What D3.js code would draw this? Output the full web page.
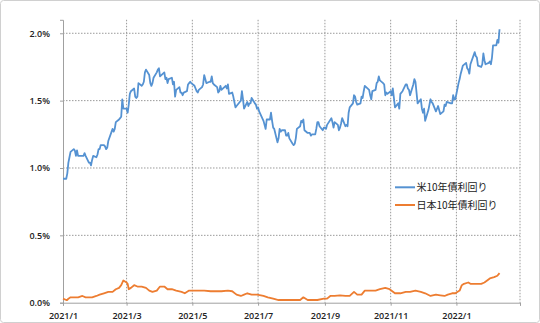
<!DOCTYPE html>
<html><head><meta charset="utf-8">
<script src="https://cdn.jsdelivr.net/npm/d3@7"></script>
<style>
body{margin:0;background:#fff;}
svg{display:block;}
</style></head>
<body>
<svg id="chart" width="540" height="323"></svg>
<script>
// ---- data ----
const seriesNames = ["米10年債利回り", "日本10年債利回り"];
const yTicks = [0, 0.5, 1.0, 1.5, 2.0];
const xTickDates = ["2021-01-01","2021-03-01","2021-05-01","2021-07-01","2021-09-01","2021-11-01","2022-01-01","2022-03-01"];

const usDates = [
"2021-01-01","2021-01-04","2021-01-05","2021-01-06","2021-01-07","2021-01-08","2021-01-11","2021-01-12","2021-01-13","2021-01-14","2021-01-15","2021-01-19","2021-01-20","2021-01-21","2021-01-22","2021-01-25","2021-01-26","2021-01-27","2021-01-28","2021-01-29",
"2021-02-01","2021-02-02","2021-02-03","2021-02-04","2021-02-05","2021-02-08","2021-02-09","2021-02-10","2021-02-11","2021-02-12","2021-02-16","2021-02-17","2021-02-18","2021-02-19","2021-02-22","2021-02-23","2021-02-24","2021-02-25","2021-02-26",
"2021-03-01","2021-03-02","2021-03-03","2021-03-04","2021-03-05","2021-03-08","2021-03-09","2021-03-10","2021-03-11","2021-03-12","2021-03-15","2021-03-16","2021-03-17","2021-03-18","2021-03-19","2021-03-22","2021-03-23","2021-03-24","2021-03-25","2021-03-26","2021-03-29","2021-03-30","2021-03-31",
"2021-04-01","2021-04-05","2021-04-06","2021-04-07","2021-04-08","2021-04-09","2021-04-12","2021-04-13","2021-04-14","2021-04-15","2021-04-16","2021-04-19","2021-04-20","2021-04-21","2021-04-22","2021-04-23","2021-04-26","2021-04-27","2021-04-28","2021-04-29","2021-04-30",
"2021-05-03","2021-05-04","2021-05-05","2021-05-06","2021-05-07","2021-05-10","2021-05-11","2021-05-12","2021-05-13","2021-05-14","2021-05-17","2021-05-18","2021-05-19","2021-05-20","2021-05-21","2021-05-24","2021-05-25","2021-05-26","2021-05-27","2021-05-28",
"2021-06-01","2021-06-02","2021-06-03","2021-06-04","2021-06-07","2021-06-08","2021-06-09","2021-06-10","2021-06-11","2021-06-14","2021-06-15","2021-06-16","2021-06-17","2021-06-18","2021-06-21","2021-06-22","2021-06-23","2021-06-24","2021-06-25","2021-06-28","2021-06-29","2021-06-30",
"2021-07-01","2021-07-02","2021-07-06","2021-07-07","2021-07-08","2021-07-09","2021-07-12","2021-07-13","2021-07-14","2021-07-15","2021-07-16","2021-07-19","2021-07-20","2021-07-21","2021-07-22","2021-07-23","2021-07-26","2021-07-27","2021-07-28","2021-07-29","2021-07-30",
"2021-08-02","2021-08-03","2021-08-04","2021-08-05","2021-08-06","2021-08-09","2021-08-10","2021-08-11","2021-08-12","2021-08-13","2021-08-16","2021-08-17","2021-08-18","2021-08-19","2021-08-20","2021-08-23","2021-08-24","2021-08-25","2021-08-26","2021-08-27","2021-08-30","2021-08-31",
"2021-09-01","2021-09-02","2021-09-03","2021-09-07","2021-09-08","2021-09-09","2021-09-10","2021-09-13","2021-09-14","2021-09-15","2021-09-16","2021-09-17","2021-09-20","2021-09-21","2021-09-22","2021-09-23","2021-09-24","2021-09-27","2021-09-28","2021-09-29","2021-09-30",
"2021-10-01","2021-10-04","2021-10-05","2021-10-06","2021-10-07","2021-10-08","2021-10-12","2021-10-13","2021-10-14","2021-10-15","2021-10-18","2021-10-19","2021-10-20","2021-10-21","2021-10-22","2021-10-25","2021-10-26","2021-10-27","2021-10-28","2021-10-29",
"2021-11-01","2021-11-02","2021-11-03","2021-11-04","2021-11-05","2021-11-08","2021-11-09","2021-11-10","2021-11-12","2021-11-15","2021-11-16","2021-11-17","2021-11-18","2021-11-19","2021-11-22","2021-11-23","2021-11-24","2021-11-26","2021-11-29","2021-11-30",
"2021-12-01","2021-12-02","2021-12-03","2021-12-06","2021-12-07","2021-12-08","2021-12-09","2021-12-10","2021-12-13","2021-12-14","2021-12-15","2021-12-16","2021-12-17","2021-12-20","2021-12-21","2021-12-22","2021-12-23","2021-12-27","2021-12-28","2021-12-29","2021-12-30","2021-12-31",
"2022-01-03","2022-01-04","2022-01-05","2022-01-06","2022-01-07","2022-01-10","2022-01-11","2022-01-12","2022-01-13","2022-01-14","2022-01-18","2022-01-19","2022-01-20","2022-01-21","2022-01-24","2022-01-25","2022-01-26","2022-01-27","2022-01-28","2022-01-31",
"2022-02-01","2022-02-02","2022-02-03","2022-02-04","2022-02-07","2022-02-08","2022-02-09","2022-02-10"];
const usYield = [
0.92,0.92,0.96,1.04,1.08,1.12,1.14,1.13,1.09,1.13,1.09,1.09,1.09,1.11,1.09,1.04,1.04,1.02,1.06,1.09,
1.08,1.10,1.14,1.14,1.17,1.17,1.16,1.14,1.15,1.20,1.29,1.27,1.29,1.34,1.36,1.37,1.38,1.51,1.44,
1.44,1.41,1.47,1.55,1.57,1.59,1.53,1.52,1.53,1.63,1.61,1.62,1.64,1.71,1.73,1.69,1.63,1.61,1.63,1.67,1.71,1.73,1.74,
1.68,1.71,1.66,1.67,1.63,1.66,1.67,1.62,1.64,1.53,1.58,1.60,1.56,1.56,1.54,1.56,1.57,1.62,1.63,1.64,1.63,
1.61,1.59,1.57,1.56,1.58,1.60,1.62,1.69,1.66,1.63,1.64,1.64,1.68,1.63,1.62,1.60,1.56,1.57,1.61,1.58,
1.61,1.59,1.62,1.55,1.56,1.53,1.49,1.45,1.46,1.49,1.50,1.57,1.51,1.44,1.49,1.46,1.48,1.48,1.52,1.48,1.47,1.44,
1.45,1.42,1.35,1.32,1.29,1.36,1.36,1.41,1.35,1.30,1.29,1.19,1.22,1.29,1.27,1.28,1.28,1.24,1.24,1.26,1.22,
1.18,1.17,1.18,1.22,1.29,1.31,1.35,1.34,1.36,1.28,1.26,1.26,1.26,1.24,1.25,1.25,1.29,1.34,1.34,1.31,1.28,1.30,
1.30,1.29,1.32,1.37,1.34,1.30,1.34,1.32,1.28,1.30,1.33,1.37,1.31,1.32,1.31,1.41,1.45,1.48,1.54,1.53,1.49,
1.47,1.48,1.53,1.52,1.57,1.61,1.58,1.54,1.51,1.57,1.58,1.63,1.64,1.68,1.65,1.63,1.62,1.54,1.56,1.55,
1.57,1.54,1.59,1.52,1.45,1.48,1.44,1.55,1.57,1.62,1.62,1.59,1.58,1.54,1.62,1.66,1.64,1.48,1.51,1.44,
1.41,1.44,1.35,1.43,1.47,1.51,1.49,1.48,1.42,1.44,1.46,1.43,1.40,1.42,1.47,1.46,1.49,1.48,1.48,1.54,1.51,1.51,
1.63,1.66,1.70,1.73,1.76,1.78,1.74,1.73,1.70,1.77,1.86,1.83,1.82,1.76,1.75,1.77,1.85,1.80,1.77,1.78,
1.79,1.77,1.82,1.91,1.91,1.95,1.93,2.03];

const jpDates = [
"2021-01-01","2021-01-04","2021-01-05","2021-01-06","2021-01-08","2021-01-12","2021-01-15","2021-01-19","2021-01-22","2021-01-26","2021-01-28",
"2021-02-01","2021-02-04","2021-02-08","2021-02-12","2021-02-16","2021-02-19","2021-02-22","2021-02-24","2021-02-26",
"2021-03-01","2021-03-02","2021-03-03","2021-03-05","2021-03-08","2021-03-11","2021-03-15","2021-03-19","2021-03-22","2021-03-25","2021-03-29",
"2021-04-01","2021-04-05","2021-04-08","2021-04-12","2021-04-16","2021-04-21","2021-04-24","2021-04-28",
"2021-05-06","2021-05-12","2021-05-18","2021-05-24","2021-05-28",
"2021-06-03","2021-06-07","2021-06-11","2021-06-15","2021-06-18","2021-06-21","2021-06-25","2021-06-30",
"2021-07-06","2021-07-10","2021-07-15","2021-07-20","2021-07-26","2021-07-30",
"2021-08-04","2021-08-09","2021-08-12","2021-08-16","2021-08-20","2021-08-25","2021-08-31",
"2021-09-03","2021-09-06","2021-09-10","2021-09-15","2021-09-20","2021-09-24","2021-09-28",
"2021-10-01","2021-10-05","2021-10-08","2021-10-13","2021-10-18","2021-10-22","2021-10-27","2021-10-31",
"2021-11-05","2021-11-10","2021-11-15","2021-11-19","2021-11-24","2021-11-29",
"2021-12-03","2021-12-08","2021-12-13","2021-12-17","2021-12-21","2021-12-24","2021-12-28","2021-12-31",
"2022-01-04","2022-01-06","2022-01-08","2022-01-12","2022-01-14","2022-01-19","2022-01-24","2022-01-27",
"2022-02-01","2022-02-05","2022-02-08","2022-02-10"];
const jpYield = [
0.03,0.02,0.02,0.03,0.04,0.04,0.04,0.05,0.04,0.04,0.04,
0.05,0.06,0.07,0.08,0.08,0.10,0.11,0.13,0.165,
0.15,0.14,0.10,0.11,0.13,0.12,0.12,0.11,0.09,0.08,0.09,
0.12,0.12,0.10,0.10,0.09,0.08,0.07,0.09,
0.09,0.09,0.085,0.085,0.085,
0.09,0.085,0.06,0.05,0.06,0.07,0.06,0.06,
0.05,0.04,0.03,0.02,0.02,0.02,
0.02,0.02,0.04,0.02,0.02,0.02,0.03,
0.03,0.05,0.05,0.055,0.05,0.05,0.08,
0.06,0.06,0.09,0.09,0.09,0.10,0.11,0.10,
0.07,0.07,0.08,0.08,0.09,0.08,
0.07,0.05,0.06,0.055,0.05,0.06,0.07,0.07,
0.09,0.13,0.14,0.15,0.14,0.14,0.14,0.15,
0.18,0.19,0.20,0.22];

// ---- chart ----
const svg = d3.select("#chart");
const W = 540, H = 323;
const parse = d3.timeParse("%Y-%m-%d");
const plotLeft = 63, plotRight = 520, plotTop = 19.8, plotBottom = 302.7;

svg.append("rect").attr("x",0.5).attr("y",0.5).attr("width",W-1).attr("height",H-1)
  .attr("rx",3).attr("fill","#fff").attr("stroke","#d0d0d0");

const x = d3.scaleTime().domain([parse(xTickDates[0]), parse(xTickDates[xTickDates.length-1])]).range([plotLeft, plotRight]);
const y = d3.scaleLinear().domain([0, 2.1]).range([plotBottom, plotTop]);

const gridColor = "#9a9a9a";
svg.append("g").selectAll("line").data(yTicks.filter(v=>v>0)).join("line")
  .attr("x1", plotLeft).attr("x2", plotRight).attr("y1", d=>y(d)).attr("y2", d=>y(d))
  .attr("stroke", gridColor).attr("stroke-width",1).attr("stroke-dasharray","1.5,1.5");
svg.append("g").selectAll("line").data(xTickDates.slice(1).map(parse)).join("line")
  .attr("x1", d=>x(d)).attr("x2", d=>x(d)).attr("y1", plotTop).attr("y2", plotBottom)
  .attr("stroke", gridColor).attr("stroke-width",1).attr("stroke-dasharray","1.5,1.5");

const fontFam = "'Open Sans', 'Liberation Sans', Arial, sans-serif";
const yAxis = svg.append("g").attr("transform",`translate(${plotLeft},0)`)
  .call(d3.axisLeft(y).tickValues(yTicks).tickSize(3).tickPadding(10).tickFormat(d=>d3.format(".1f")(d)+"%"));
yAxis.select(".domain").attr("stroke","#a0a0a0");
yAxis.selectAll(".tick line").attr("stroke","#a0a0a0");
yAxis.selectAll("text").attr("font-family",fontFam).attr("font-size","9px").attr("font-weight",600).attr("fill","#222");

const xAxis = svg.append("g").attr("transform",`translate(0,${plotBottom})`)
  .call(d3.axisBottom(x).tickValues(xTickDates.map(parse)).tickSize(3).tickPadding(6.5)
    .tickFormat((d,i)=> i===xTickDates.length-1 ? "" : `${d.getFullYear()}/${d.getMonth()+1}`));
xAxis.select(".domain").attr("stroke","#a0a0a0");
xAxis.selectAll(".tick line").attr("stroke","#a0a0a0");
xAxis.selectAll("text").attr("font-family",fontFam).attr("font-size","9px").attr("font-weight",600).attr("fill","#222");

const colors = ["#5592d2", "#ed7d31"];
const line = d3.line().x(d=>x(d[0])).y(d=>y(d[1]));
const usData = usDates.map((d,i)=>[parse(d), usYield[i]]);
const jpData = jpDates.map((d,i)=>[parse(d), jpYield[i]]);

svg.append("path").datum(jpData).attr("d", line).attr("fill","none")
  .attr("stroke", colors[1]).attr("stroke-width",1.8).attr("stroke-linejoin","round");
svg.append("path").datum(usData).attr("d", line).attr("fill","none")
  .attr("stroke", colors[0]).attr("stroke-width",1.8).attr("stroke-linejoin","round");

const lg = svg.append("g");
seriesNames.forEach((n,i)=>{
  const ly = 187.3 + i*17.7;
  lg.append("line").attr("x1",395).attr("x2",415).attr("y1",ly).attr("y2",ly)
    .attr("stroke",colors[i]).attr("stroke-width",2);
  lg.append("text").attr("x",416.5).attr("y",ly).attr("dy","0.35em")
    .attr("font-family","'Noto Sans CJK JP', sans-serif").attr("font-size","10px").attr("fill","#222").text(n);
});
</script>
</body></html>
